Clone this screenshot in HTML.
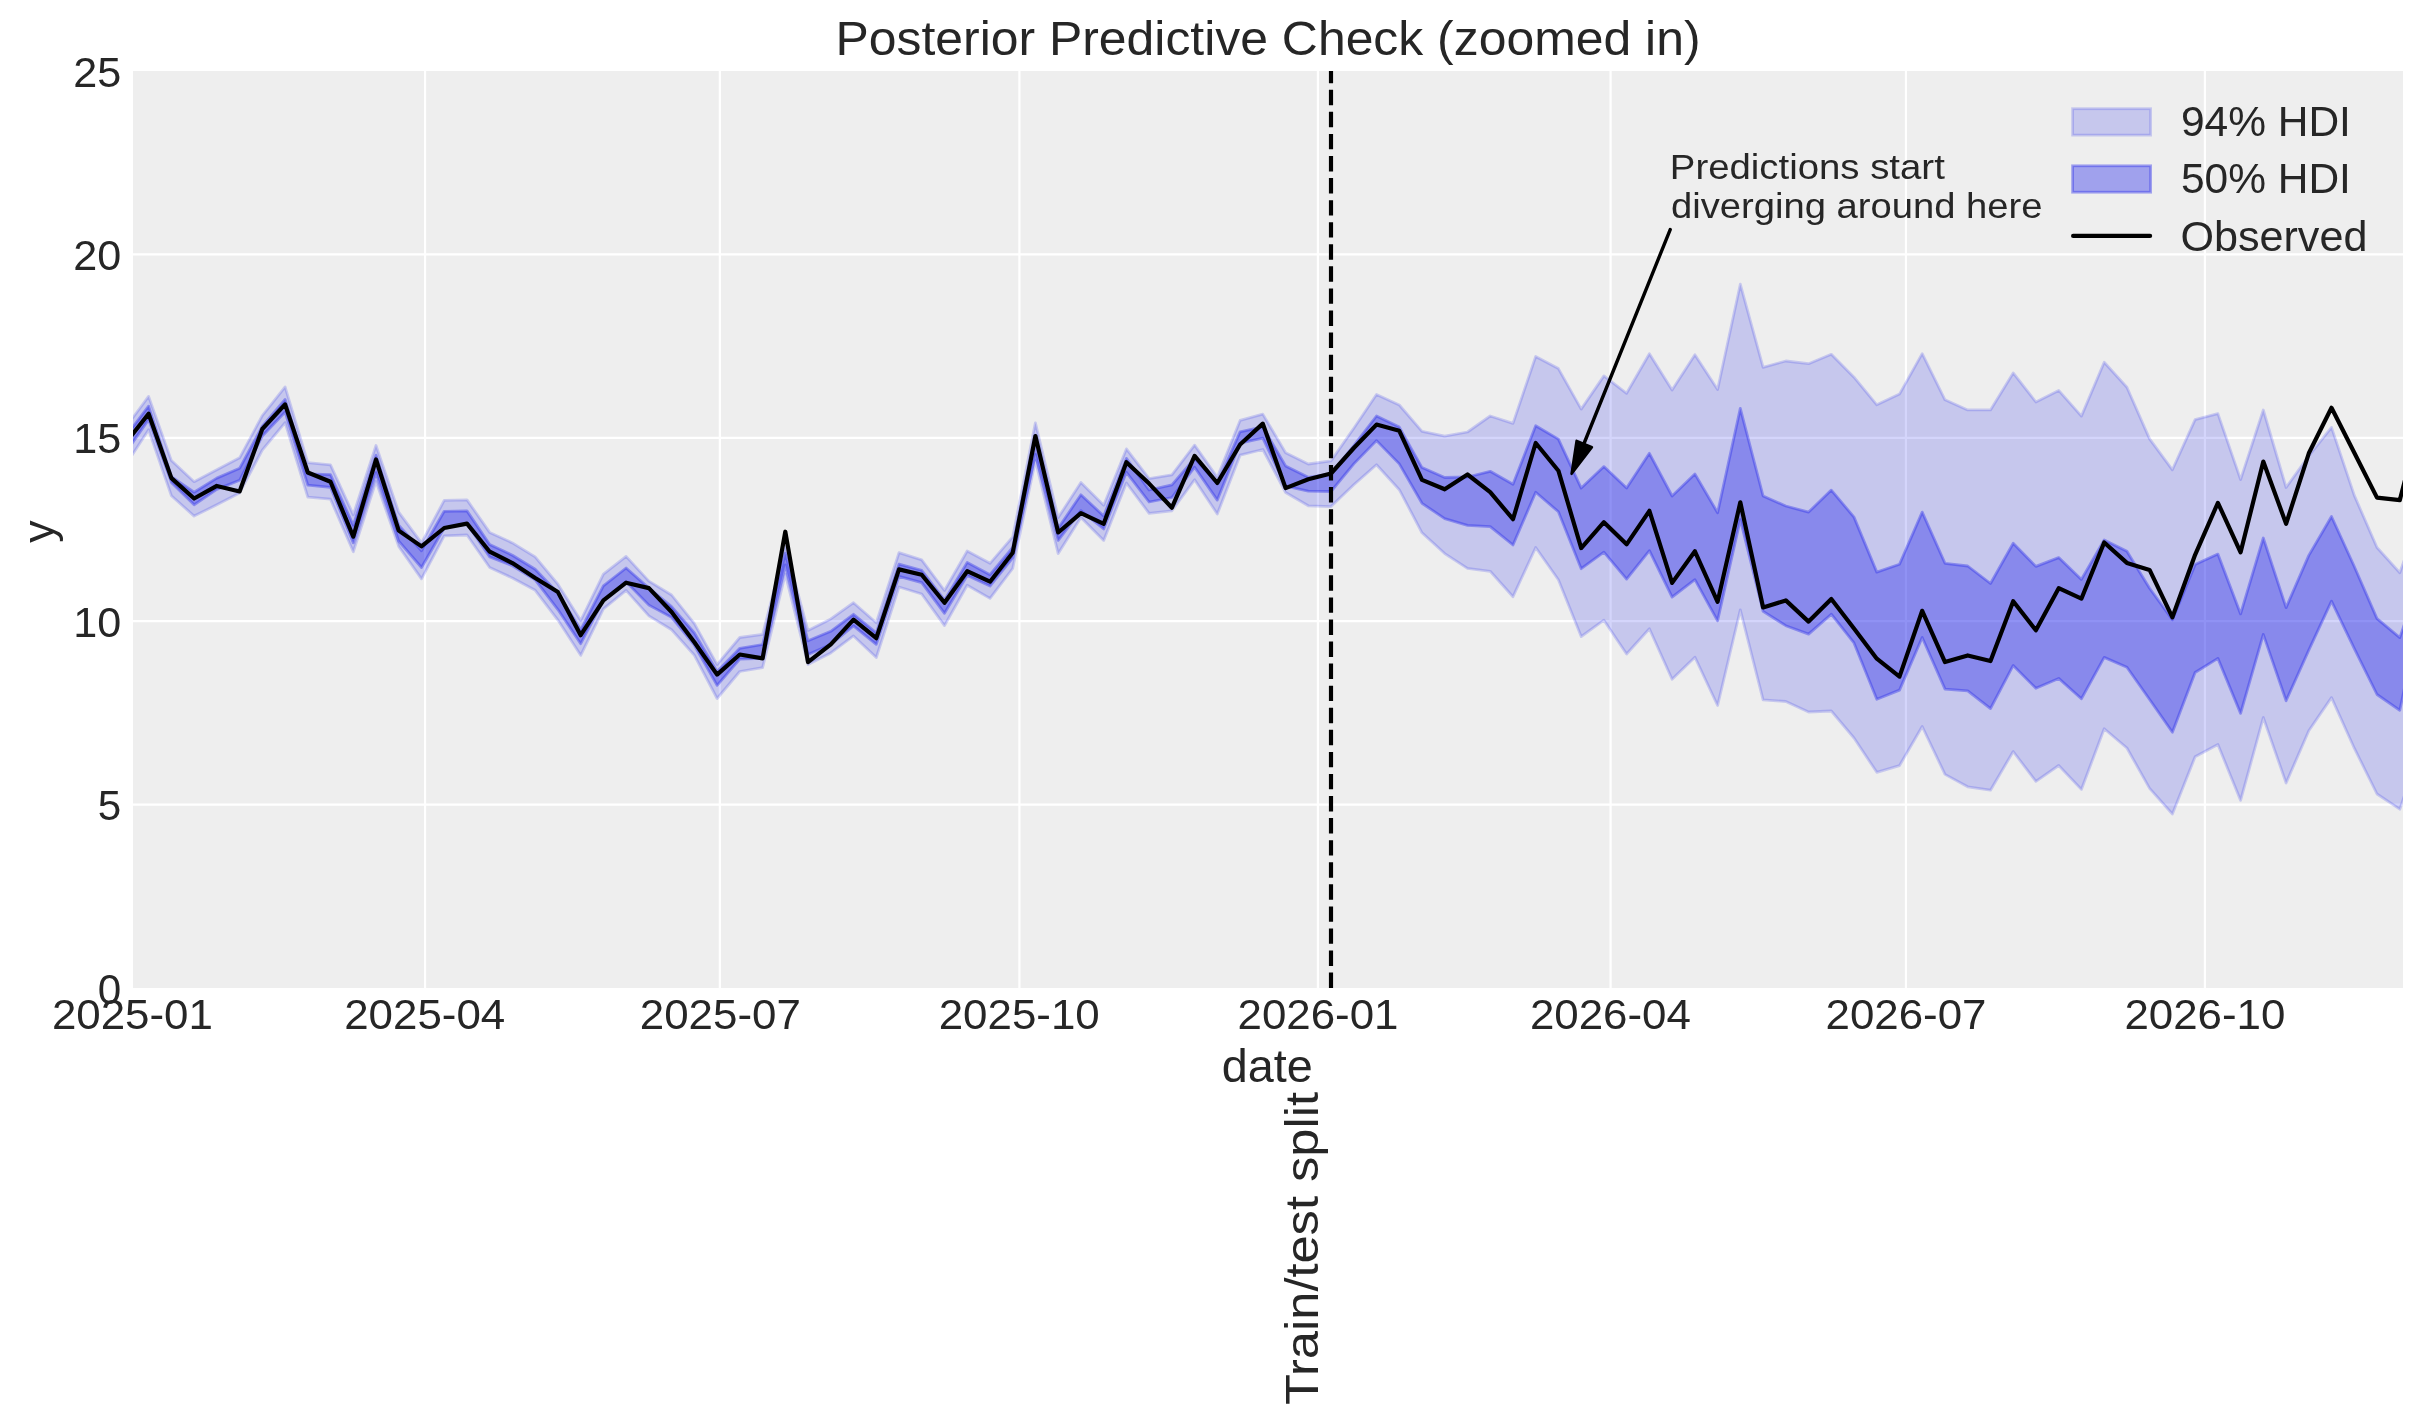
<!DOCTYPE html><html><head><meta charset="utf-8"><style>html,body{margin:0;padding:0;background:#fff;}svg{display:block;will-change:transform;}text{font-family:"Liberation Sans",sans-serif;fill:#262626;}</style></head><body>
<svg width="2423" height="1424" viewBox="0 0 2423 1424">
<rect x="0" y="0" width="2423" height="1424" fill="#ffffff"/>
<defs><clipPath id="pc"><rect x="133" y="71" width="2270" height="917"/></clipPath></defs>
<rect x="133" y="71" width="2270" height="917" fill="#eeeeee"/>
<line x1="425.05" y1="71" x2="425.05" y2="988" stroke="#ffffff" stroke-width="2.2"/>
<line x1="719.85" y1="71" x2="719.85" y2="988" stroke="#ffffff" stroke-width="2.2"/>
<line x1="1019.40" y1="71" x2="1019.40" y2="988" stroke="#ffffff" stroke-width="2.2"/>
<line x1="1317.90" y1="71" x2="1317.90" y2="988" stroke="#ffffff" stroke-width="2.2"/>
<line x1="1610.60" y1="71" x2="1610.60" y2="988" stroke="#ffffff" stroke-width="2.2"/>
<line x1="1905.95" y1="71" x2="1905.95" y2="988" stroke="#ffffff" stroke-width="2.2"/>
<line x1="2204.90" y1="71" x2="2204.90" y2="988" stroke="#ffffff" stroke-width="2.2"/>
<line x1="133" y1="804.60" x2="2403" y2="804.60" stroke="#ffffff" stroke-width="2.2"/>
<line x1="133" y1="621.20" x2="2403" y2="621.20" stroke="#ffffff" stroke-width="2.2"/>
<line x1="133" y1="437.80" x2="2403" y2="437.80" stroke="#ffffff" stroke-width="2.2"/>
<line x1="133" y1="254.40" x2="2403" y2="254.40" stroke="#ffffff" stroke-width="2.2"/>
<g clip-path="url(#pc)">
<path d="M125.9,427.1 L148.6,396.4 L171.4,460.6 L194.1,481.7 L216.8,469.7 L239.6,457.8 L262.3,415.6 L285.1,386.9 L307.8,462.7 L330.5,464.8 L353.3,514.8 L376.0,445.5 L398.7,512.2 L421.5,542.9 L444.2,500.4 L467.0,499.9 L489.7,532.4 L512.4,542.9 L535.2,556.9 L557.9,584.2 L580.7,620.5 L603.4,574.2 L626.1,556.4 L648.9,581.1 L671.6,595.0 L694.4,623.6 L717.1,664.6 L739.8,637.5 L762.6,634.4 L785.3,546.3 L808.0,630.5 L830.8,618.9 L853.5,602.7 L876.3,622.8 L899.0,552.7 L921.7,559.8 L944.5,590.5 L967.2,551.0 L990.0,563.3 L1012.7,536.9 L1035.4,422.8 L1058.2,517.6 L1080.9,482.5 L1103.7,505.3 L1126.4,448.9 L1149.1,478.6 L1171.9,474.8 L1194.6,445.1 L1217.3,477.3 L1240.1,420.4 L1262.8,414.1 L1285.6,452.7 L1308.3,464.0 L1331.0,460.9 L1353.8,428.3 L1376.5,394.4 L1399.3,405.0 L1422.0,431.3 L1444.7,436.2 L1467.5,432.0 L1490.2,416.0 L1513.0,423.4 L1535.7,356.5 L1558.4,368.6 L1581.2,409.1 L1603.9,375.9 L1626.6,393.3 L1649.4,353.8 L1672.1,390.1 L1694.9,354.7 L1717.6,389.5 L1740.3,284.2 L1763.1,367.3 L1785.8,361.0 L1808.6,363.7 L1831.3,354.3 L1854.0,377.2 L1876.8,404.8 L1899.5,394.1 L1922.2,353.6 L1945.0,399.8 L1967.7,409.9 L1990.5,409.9 L2013.2,372.9 L2035.9,402.0 L2058.7,390.4 L2081.4,416.1 L2104.2,362.3 L2126.9,387.3 L2149.6,438.9 L2172.4,469.8 L2195.1,419.6 L2217.9,413.6 L2240.6,479.6 L2263.3,410.0 L2286.1,487.5 L2308.8,455.9 L2331.5,427.4 L2354.3,495.4 L2377.0,547.5 L2399.8,572.8 L2422.5,508.6 L2422.5,743.0 L2399.8,809.2 L2377.0,794.0 L2354.3,748.2 L2331.5,697.6 L2308.8,730.8 L2286.1,783.0 L2263.3,717.5 L2240.6,800.4 L2217.9,744.5 L2195.1,756.8 L2172.4,814.0 L2149.6,788.4 L2126.9,748.0 L2104.2,728.7 L2081.4,789.4 L2058.7,765.5 L2035.9,781.4 L2013.2,751.5 L1990.5,790.2 L1967.7,786.8 L1945.0,774.4 L1922.2,726.5 L1899.5,765.6 L1876.8,772.3 L1854.0,738.0 L1831.3,711.0 L1808.6,712.0 L1785.8,701.5 L1763.1,699.8 L1740.3,609.8 L1717.6,705.5 L1694.9,657.2 L1672.1,679.3 L1649.4,628.7 L1626.6,654.0 L1603.9,620.2 L1581.2,636.6 L1558.4,579.7 L1535.7,547.5 L1513.0,596.7 L1490.2,571.3 L1467.5,568.4 L1444.7,553.6 L1422.0,532.8 L1399.3,489.7 L1376.5,464.7 L1353.8,484.8 L1331.0,506.6 L1308.3,505.8 L1285.6,492.5 L1262.8,449.5 L1240.1,455.2 L1217.3,514.0 L1194.6,479.8 L1171.9,510.8 L1149.1,513.3 L1126.4,483.0 L1103.7,540.4 L1080.9,517.6 L1058.2,553.6 L1035.4,460.6 L1012.7,568.5 L990.0,598.4 L967.2,585.2 L944.5,625.6 L921.7,594.0 L899.0,587.0 L876.3,657.5 L853.5,635.9 L830.8,652.9 L808.0,664.5 L785.3,574.1 L762.6,667.6 L739.8,671.5 L717.1,698.5 L694.4,655.3 L671.6,629.8 L648.9,615.9 L626.1,590.4 L603.4,608.9 L580.7,655.3 L557.9,620.1 L535.2,590.3 L512.4,578.0 L489.7,567.5 L467.0,535.0 L444.2,535.9 L421.5,578.9 L398.7,546.4 L376.0,481.4 L353.3,551.7 L330.5,499.2 L307.8,497.1 L285.1,422.7 L262.3,450.1 L239.6,492.9 L216.8,504.8 L194.1,516.1 L171.4,495.7 L148.6,429.7 L125.9,464.7 Z" fill="#2a2eec" fill-opacity="0.2" stroke="#2a2eec" stroke-opacity="0.2" stroke-width="2.78" stroke-linejoin="round"/>
<path d="M125.9,436.2 L148.6,406.1 L171.4,476.7 L194.1,492.2 L216.8,478.1 L239.6,468.3 L262.3,426.2 L285.1,399.5 L307.8,473.9 L330.5,474.6 L353.3,525.3 L376.0,455.1 L398.7,525.3 L421.5,550.8 L444.2,511.3 L467.0,510.9 L489.7,544.6 L512.4,555.2 L535.2,569.2 L557.9,592.9 L580.7,629.8 L603.4,585.8 L626.1,568.0 L648.9,588.1 L671.6,606.6 L694.4,632.9 L717.1,671.5 L739.8,648.3 L762.6,644.5 L785.3,553.3 L808.0,640.8 L830.8,631.3 L853.5,614.3 L876.3,632.8 L899.0,564.2 L921.7,570.3 L944.5,600.1 L967.2,562.4 L990.0,574.7 L1012.7,547.5 L1035.4,435.1 L1058.2,528.2 L1080.9,494.8 L1103.7,515.9 L1126.4,458.4 L1149.1,490.0 L1171.9,484.9 L1194.6,458.4 L1217.3,483.6 L1240.1,431.8 L1262.8,426.8 L1285.6,465.9 L1308.3,477.3 L1331.0,473.8 L1353.8,445.5 L1376.5,416.0 L1399.3,427.1 L1422.0,467.6 L1444.7,477.5 L1467.5,477.0 L1490.2,471.3 L1513.0,484.3 L1535.7,425.8 L1558.4,439.1 L1581.2,488.1 L1603.9,466.6 L1626.6,488.1 L1649.4,453.3 L1672.1,496.0 L1694.9,473.9 L1717.6,512.7 L1740.3,408.4 L1763.1,496.0 L1785.8,506.0 L1808.6,512.1 L1831.3,490.1 L1854.0,517.1 L1876.8,572.1 L1899.5,564.3 L1922.2,512.1 L1945.0,563.3 L1967.7,566.0 L1990.5,583.5 L2013.2,543.2 L2035.9,566.4 L2058.7,557.6 L2081.4,579.4 L2104.2,540.0 L2126.9,551.3 L2149.6,588.2 L2172.4,619.8 L2195.1,564.6 L2217.9,554.1 L2240.6,613.9 L2263.3,538.0 L2286.1,607.6 L2308.8,555.4 L2331.5,516.5 L2354.3,566.5 L2377.0,618.6 L2399.8,637.6 L2422.5,572.0 L2422.5,602.0 L2399.8,710.3 L2377.0,694.5 L2354.3,648.6 L2331.5,601.2 L2308.8,650.2 L2286.1,700.8 L2263.3,634.4 L2240.6,713.4 L2217.9,658.4 L2195.1,672.5 L2172.4,732.2 L2149.6,699.5 L2126.9,667.2 L2104.2,657.4 L2081.4,698.8 L2058.7,678.4 L2035.9,688.3 L2013.2,665.4 L1990.5,708.6 L1967.7,690.8 L1945.0,689.1 L1922.2,637.5 L1899.5,690.1 L1876.8,699.2 L1854.0,642.9 L1831.3,614.2 L1808.6,634.1 L1785.8,625.7 L1763.1,611.3 L1740.3,519.7 L1717.6,620.8 L1694.9,579.7 L1672.1,597.1 L1649.4,550.7 L1626.6,579.1 L1603.9,552.2 L1581.2,568.7 L1558.4,511.8 L1535.7,492.2 L1513.0,545.0 L1490.2,526.6 L1467.5,525.4 L1444.7,518.7 L1422.0,503.3 L1399.3,463.9 L1376.5,440.6 L1353.8,463.9 L1331.0,491.5 L1308.3,491.2 L1285.6,486.2 L1262.8,438.1 L1240.1,443.2 L1217.3,500.1 L1194.6,467.2 L1171.9,497.5 L1149.1,502.0 L1126.4,472.3 L1103.7,529.0 L1080.9,510.6 L1058.2,540.4 L1035.4,454.4 L1012.7,558.0 L990.0,586.1 L967.2,575.6 L944.5,613.3 L921.7,582.6 L899.0,576.4 L876.3,644.4 L853.5,625.9 L830.8,644.4 L808.0,654.4 L785.3,564.9 L762.6,658.4 L739.8,659.1 L717.1,685.4 L694.4,645.2 L671.6,617.4 L648.9,605.1 L626.1,581.9 L603.4,600.4 L580.7,643.7 L557.9,609.6 L535.2,579.8 L512.4,565.7 L489.7,556.9 L467.0,523.6 L444.2,528.0 L421.5,567.5 L398.7,541.1 L376.0,472.7 L353.3,542.9 L330.5,487.3 L307.8,485.2 L285.1,412.1 L262.3,436.0 L239.6,480.3 L216.8,489.4 L194.1,504.8 L171.4,482.4 L148.6,419.6 L125.9,452.2 Z" fill="#2a2eec" fill-opacity="0.4" stroke="#2a2eec" stroke-opacity="0.4" stroke-width="2.78" stroke-linejoin="round"/>
<path d="M125.9,442.7 L148.6,413.7 L171.4,478.1 L194.1,498.5 L216.8,485.9 L239.6,491.5 L262.3,429.0 L285.1,404.4 L307.8,472.5 L330.5,481.7 L353.3,536.7 L376.0,459.5 L398.7,530.6 L421.5,546.4 L444.2,528.0 L467.0,523.6 L489.7,551.7 L512.4,563.1 L535.2,578.0 L557.9,592.1 L580.7,635.2 L603.4,600.4 L626.1,582.7 L648.9,588.1 L671.6,612.0 L694.4,642.2 L717.1,674.6 L739.8,654.5 L762.6,658.4 L785.3,531.7 L808.0,662.2 L830.8,644.4 L853.5,619.7 L876.3,638.2 L899.0,569.4 L921.7,574.7 L944.5,602.8 L967.2,571.2 L990.0,581.7 L1012.7,552.7 L1035.4,436.0 L1058.2,532.5 L1080.9,513.2 L1103.7,523.8 L1126.4,462.2 L1149.1,483.6 L1171.9,507.7 L1194.6,455.8 L1217.3,483.0 L1240.1,444.5 L1262.8,423.6 L1285.6,488.1 L1308.3,479.2 L1331.0,473.5 L1353.8,448.0 L1376.5,424.6 L1399.3,430.8 L1422.0,479.9 L1444.7,489.3 L1467.5,474.5 L1490.2,492.2 L1513.0,519.2 L1535.7,443.0 L1558.4,470.7 L1581.2,548.1 L1603.9,522.2 L1626.6,544.3 L1649.4,510.8 L1672.1,582.9 L1694.9,551.3 L1717.6,601.9 L1740.3,502.3 L1763.1,607.5 L1785.8,600.4 L1808.6,621.6 L1831.3,599.0 L1854.0,628.4 L1876.8,658.7 L1899.5,676.6 L1922.2,610.8 L1945.0,662.1 L1967.7,655.4 L1990.5,661.1 L2013.2,601.2 L2035.9,630.3 L2058.7,588.2 L2081.4,598.7 L2104.2,542.5 L2126.9,562.9 L2149.6,569.9 L2172.4,617.3 L2195.1,554.8 L2217.9,502.8 L2240.6,552.3 L2263.3,461.5 L2286.1,523.8 L2308.8,453.3 L2331.5,407.8 L2354.3,452.7 L2377.0,497.6 L2399.8,500.1 L2422.5,413.0" fill="none" stroke="#000000" stroke-width="4.17" stroke-linejoin="round" stroke-linecap="square"/>
</g>
<line x1="1331" y1="988" x2="1331" y2="71" stroke="#000000" stroke-width="4.17" stroke-dasharray="15.4 6.67"/>
<text x="132.4" y="1029.2" font-size="42.8" text-anchor="middle" textLength="161" lengthAdjust="spacingAndGlyphs">2025-01</text>
<text x="424.7" y="1029.2" font-size="42.8" text-anchor="middle" textLength="161" lengthAdjust="spacingAndGlyphs">2025-04</text>
<text x="720.3" y="1029.2" font-size="42.8" text-anchor="middle" textLength="161" lengthAdjust="spacingAndGlyphs">2025-07</text>
<text x="1019.2" y="1029.2" font-size="42.8" text-anchor="middle" textLength="161" lengthAdjust="spacingAndGlyphs">2025-10</text>
<text x="1318.0" y="1029.2" font-size="42.8" text-anchor="middle" textLength="161" lengthAdjust="spacingAndGlyphs">2026-01</text>
<text x="1610.4" y="1029.2" font-size="42.8" text-anchor="middle" textLength="161" lengthAdjust="spacingAndGlyphs">2026-04</text>
<text x="1906.0" y="1029.2" font-size="42.8" text-anchor="middle" textLength="161" lengthAdjust="spacingAndGlyphs">2026-07</text>
<text x="2204.9" y="1029.2" font-size="42.8" text-anchor="middle" textLength="161" lengthAdjust="spacingAndGlyphs">2026-10</text>
<text x="121.3" y="1003.6" font-size="43.2" text-anchor="end" textLength="23.5" lengthAdjust="spacingAndGlyphs">0</text>
<text x="121.3" y="820.2" font-size="43.2" text-anchor="end" textLength="23.5" lengthAdjust="spacingAndGlyphs">5</text>
<text x="121.3" y="636.8" font-size="43.2" text-anchor="end" textLength="48" lengthAdjust="spacingAndGlyphs">10</text>
<text x="121.3" y="453.4" font-size="43.2" text-anchor="end" textLength="48" lengthAdjust="spacingAndGlyphs">15</text>
<text x="121.3" y="270.0" font-size="43.2" text-anchor="end" textLength="48" lengthAdjust="spacingAndGlyphs">20</text>
<text x="121.3" y="86.6" font-size="43.2" text-anchor="end" textLength="48" lengthAdjust="spacingAndGlyphs">25</text>
<text x="1268" y="55" font-size="48.7" text-anchor="middle" textLength="865" lengthAdjust="spacingAndGlyphs">Posterior Predictive Check (zoomed in)</text>
<text x="1267.3" y="1081.7" font-size="45.5" text-anchor="middle" textLength="91" lengthAdjust="spacingAndGlyphs">date</text>
<text transform="translate(54.3,531.7) rotate(-90)" x="0" y="0" font-size="44.5" text-anchor="middle">y</text>
<text transform="translate(1318,1405) rotate(-90)" x="0" y="0" font-size="47" text-anchor="start" textLength="313" lengthAdjust="spacingAndGlyphs">Train/test split</text>
<rect x="2072.6" y="108.7" width="78" height="26.4" fill="#2a2eec" fill-opacity="0.2" stroke="#2a2eec" stroke-opacity="0.2" stroke-width="2.78"/>
<rect x="2072.6" y="165.8" width="78" height="26.4" fill="#2a2eec" fill-opacity="0.4" stroke="#2a2eec" stroke-opacity="0.4" stroke-width="2.78"/>
<line x1="2073.1" y1="235.9" x2="2150.1" y2="235.9" stroke="#000" stroke-width="4.17" stroke-linecap="round"/>
<text x="2180.9" y="135.5" font-size="43" textLength="170" lengthAdjust="spacingAndGlyphs">94% HDI</text>
<text x="2180.9" y="193" font-size="43" textLength="170" lengthAdjust="spacingAndGlyphs">50% HDI</text>
<text x="2180.4" y="251" font-size="43" textLength="187" lengthAdjust="spacingAndGlyphs">Observed</text>
<text x="1669.8" y="179.3" font-size="35" textLength="275" lengthAdjust="spacingAndGlyphs">Predictions start</text>
<text x="1671" y="218.2" font-size="35" textLength="371.5" lengthAdjust="spacingAndGlyphs">diverging around here</text>
<line x1="1670.2" y1="229.6" x2="1583" y2="446" stroke="#000" stroke-width="3.4" stroke-linecap="round"/>
<polygon points="1571.6,473.8 1576.6,440.9 1591.9,447.3" fill="#000" stroke="#000" stroke-width="2.6" stroke-linejoin="round"/>
</svg></body></html>
